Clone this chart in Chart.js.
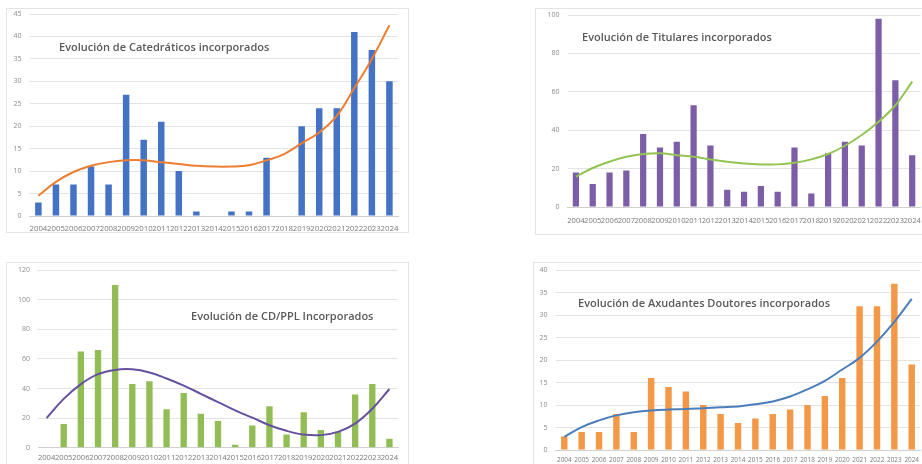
<!DOCTYPE html>
<html>
<head>
<meta charset="utf-8">
<script src="https://cdn.jsdelivr.net/npm/chart.js@4/dist/chart.umd.min.js"></script>
<style>
    html, body { margin: 0; padding: 0; background: #fff; }
    body { width: 922px; height: 464px; position: relative; overflow: hidden; }
    .frame { position: absolute; border: 1px solid #e4e4e4; box-sizing: border-box; }
    canvas { position: absolute; }
    .title {
        position: absolute; white-space: nowrap;
        font-family: 'Open Sans', sans-serif; font-weight: 600; font-size: 11px;
        color: #595959; line-height: 15px;
    }
</style>
</head>
<body>
<div class="frame" style="left:6px;top:8px;width:403px;height:225px"></div>
<div class="frame" style="left:535px;top:8px;width:400px;height:227px"></div>
<div class="frame" style="left:6px;top:262px;width:403px;height:220px"></div>
<div class="frame" style="left:533px;top:262px;width:400px;height:220px"></div>

<canvas id="chart1" width="412" height="240" style="left:0px;top:0px"></canvas>
<canvas id="chart2" width="400" height="240" style="left:530px;top:0px"></canvas>
<canvas id="chart3" width="412" height="206" style="left:0px;top:258px"></canvas>
<canvas id="chart4" width="400" height="206" style="left:530px;top:258px"></canvas>

<div class="title" style="left:59px;top:39px">Evolución de Catedráticos incorporados</div>
<div class="title" style="left:582px;top:29px">Evolución de Titulares incorporados</div>
<div class="title" style="left:191px;top:308px">Evolución de CD/PPL Incorporados</div>
<div class="title" style="left:578px;top:295px">Evolución de Axudantes Doutores incorporados</div>

<script>
const years = ['2004', '2005', '2006', '2007', '2008', '2009', '2010', '2011', '2012', '2013', '2014',
    '2015', '2016', '2017', '2018', '2019', '2020', '2021', '2022', '2023', '2024'];

const catedraticos = [3, 7, 7, 11, 7, 27, 17, 21, 10, 1, 0, 1, 1, 13, 0, 20, 24, 24, 41, 37, 30];
const catedraticosTrend = [4.5, 7.6, 9.8, 11.2, 12, 12.4, 12.4, 12, 11.6, 11.2, 11, 11, 11.3, 12.4, 13.8, 16.2, 18.6, 22.3, 28.5, 35, 42.5];
const catedraticosTicks = { max: 45, step: 5 };

const titulares = [18, 12, 18, 19, 38, 31, 34, 53, 32, 9, 8, 11, 8, 31, 7, 28, 34, 32, 98, 66, 27];
const titularesTrend = [15.8, 20.3, 23.6, 26.2, 27.6, 28, 27, 26.2, 24.8, 23.6, 22.7, 22.2, 22.2, 23, 24.8, 27.6, 31.9, 37.5, 44.4, 53, 65.3];
const titularesTicks = { max: 100, step: 20 };

const cdppl = [0, 16, 65, 66, 110, 43, 45, 26, 37, 23, 18, 2, 15, 28, 9, 24, 12, 11, 36, 43, 6];
const cdpplTrend = [20, 33, 43, 49.7, 52.6, 53, 50.9, 46.8, 42, 36.4, 30.8, 25.2, 20.3, 15.2, 11.4, 8.9, 8.5, 10.7, 16.3, 26.3, 39.7];
const cdpplTicks = { max: 120, step: 20 };

const axudantes = [3, 4, 4, 8, 4, 16, 14, 13, 10, 8, 6, 7, 8, 9, 10, 12, 16, 32, 32, 37, 19];
const axudantesTrend = [2.9, 5.1, 6.6, 7.7, 8.4, 8.8, 9, 9.1, 9.3, 9.5, 9.7, 10.2, 10.8, 11.9, 13.5, 15.4, 17.9, 20.5, 24.1, 28.5, 33.6];
const axudantesTicks = { max: 40, step: 5 };

// canvas box [left, top, width, height] and plot box [left, top, right, bottom], page coords
function makePanel(id, bars, trend, ticks, barColor, lineColor, canvasBox, plotBox, xFont, xPad) {
    const [cl, ct, cw, ch] = canvasBox;
    const [pl, pt, pr, pb] = plotBox;
    const xHeight = 16;
    const ctx = document.getElementById(id).getContext('2d');
    new Chart(ctx, {
        type: 'bar',
        data: {
            labels: years,
            datasets: [{
                type: 'line',
                data: trend,
                borderColor: lineColor,
                borderWidth: 2,
                pointRadius: 0,
                tension: 0.4,
                fill: false,
                order: 0
            }, {
                data: bars,
                backgroundColor: barColor,
                barPercentage: 0.37,
                categoryPercentage: 1,
                order: 1
            }]
        },
        options: {
            responsive: false,
            animation: false,
            layout: {
                padding: {
                    left: 0,
                    top: pt - ct,
                    right: cl + cw - pr,
                    bottom: ct + ch - pb - xHeight
                }
            },
            plugins: {
                legend: { display: false },
                tooltip: { enabled: false }
            },
            scales: {
                x: {
                    grid: { display: false, drawTicks: false },
                    border: { color: '#d0d0d0' },
                    afterFit: s => { s.height = xHeight; },
                    ticks: {
                        autoSkip: false,
                        maxRotation: 0,
                        minRotation: 0,
                        padding: xPad,
                        color: '#7a7a7a',
                        font: { family: 'Open Sans', size: xFont }
                    }
                },
                y: {
                    min: 0,
                    max: ticks.max,
                    grid: { color: '#e3e3e3', drawTicks: false },
                    border: { display: false },
                    afterFit: s => { s.width = pl - cl; },
                    ticks: {
                        stepSize: ticks.step,
                        padding: 8,
                        color: '#8c8c8c',
                        font: { family: 'Open Sans', size: 7 }
                    }
                }
            }
        }
    });
}

makePanel('chart1', catedraticos, catedraticosTrend, catedraticosTicks, '#4472c4', '#ed7d31',
    [0, 0, 412, 240], [29.6, 14, 398.2, 216], 7.8, 8);
makePanel('chart2', titulares, titularesTrend, titularesTicks, '#7b5ea7', '#92c353',
    [530, 0, 400, 240], [567.5, 15, 924.5, 207], 7.6, 9);
makePanel('chart3', cdppl, cdpplTrend, cdpplTicks, '#92bd55', '#6650a0',
    [0, 258, 412, 206], [38, 268.3, 398, 447.7], 7.6, 6);
makePanel('chart4', axudantes, axudantesTrend, axudantesTicks, '#f39847', '#4a7ebb',
    [530, 258, 400, 206], [555.6, 267.7, 920.4, 450], 6.4, 6);
</script>
</body>
</html>
